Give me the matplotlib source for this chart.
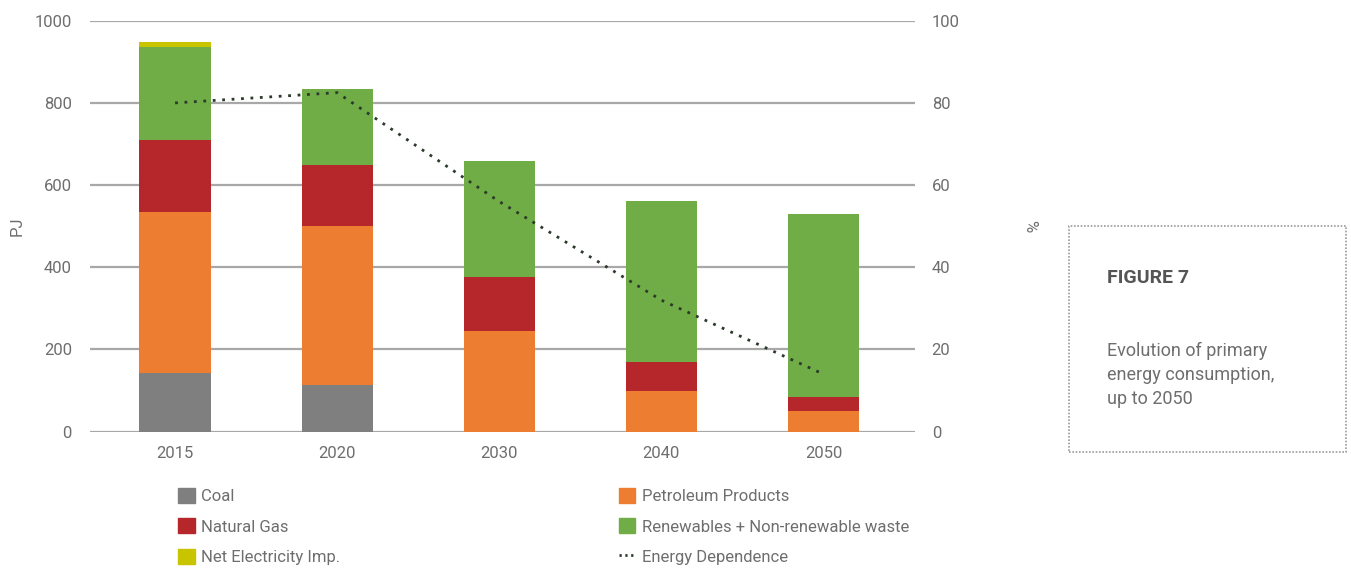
import matplotlib
matplotlib.use("Agg")
import matplotlib.pyplot as plt
from matplotlib.patches import Rectangle, Patch
from matplotlib.lines import Line2D
import numpy as np

years = ["2015", "2020", "2030", "2040", "2050"]
coal = [142, 114, 0, 0, 0]
petroleum = [393, 386, 246, 100, 51]
natural_gas = [175, 149, 131, 70, 33]
renewables = [227, 186, 282, 392, 445]
net_elec = [10, 0, 0, 0, 0]
energy_dependence = [80, 82.5, 56, 32, 14]

series_names = ["Coal", "Petroleum Products", "Natural Gas",
                "Renewables + Non-renewable waste", "Net Electricity Imp."]
colors = {"Coal": "#7f7f80", "Petroleum Products": "#ed7d31",
          "Natural Gas": "#b5272b",
          "Renewables + Non-renewable waste": "#70ad47",
          "Net Electricity Imp.": "#c8c400"}

plt.rcParams['font.family'] = ["Roboto", "DejaVu Sans"]
TXT = "#6e6e6e"

fig = plt.figure(figsize=(13.51, 5.72), dpi=100)
ax = fig.add_axes([0.0666, 0.2453, 0.6107, 0.7185])
ax2 = ax.twinx()

x = np.arange(len(years))
w = 0.44
bottom = np.zeros(len(years))
data = [coal, petroleum, natural_gas, renewables, net_elec]
for name, vals in zip(series_names, data):
    vals = np.array(vals, dtype=float)
    ax.bar(x, vals, w, bottom=bottom, color=colors[name], zorder=3, linewidth=0)
    bottom += vals

ax.set_ylim(0, 1000)
ax.set_xlim(-0.525, 4.565)
ax.set_yticks(range(0, 1001, 200))
ax.set_xticks(x)
ax.set_xticklabels(years)
ax.grid(axis='y', color='#a8a8a8', linewidth=1.6, zorder=0)
ax.set_axisbelow(True)
for s in ax.spines.values():
    s.set_visible(False)
for s in ax2.spines.values():
    s.set_visible(False)
ax.tick_params(axis='y', length=0, pad=13, labelsize=12, labelcolor=TXT)
ax.tick_params(axis='x', length=0, pad=10, labelsize=12, labelcolor=TXT)
ax.set_ylabel("PJ", fontsize=12, color=TXT)
ax.yaxis.set_label_coords(-0.079, 0.5)

ax2.plot(x, energy_dependence, linestyle=(0, (1, 2.4)), color="#2b3a2b",
         linewidth=2.0, zorder=5)
ax2.set_ylim(0, 100)
ax2.set_yticks(range(0, 101, 20))
ax2.tick_params(axis='y', length=0, pad=12, labelsize=12, labelcolor=TXT)
ax2.set_ylabel("%", fontsize=12, color=TXT, rotation=-90, va='center')
ax2.yaxis.set_label_coords(1.139, 0.5)

# Legend
handles = [Patch(color=colors["Coal"]), Patch(color=colors["Natural Gas"]),
           Patch(color=colors["Net Electricity Imp."]),
           Patch(color=colors["Petroleum Products"]),
           Patch(color=colors["Renewables + Non-renewable waste"]),
           Line2D([0], [0], linestyle=(0, (0.8, 1.3)), color="#2b3a2b", linewidth=2.0)]
labels = ["Coal", "Natural Gas", "Net Electricity Imp.", "Petroleum Products",
          "Renewables + Non-renewable waste", "Energy Dependence"]
leg = fig.legend(handles, labels, ncol=2, loc='upper left',
                 bbox_to_anchor=(0.1206, 0.173), frameon=False,
                 fontsize=12, labelcolor=TXT, handlelength=1.0, handleheight=1.0,
                 handletextpad=0.4, columnspacing=16.7, labelspacing=0.85)

# Figure caption box
box = Rectangle((1069 / 1351, 1 - 452 / 572), (1346 - 1069) / 1351, (452 - 226) / 572,
                transform=fig.transFigure, fill=False, edgecolor="#9a9a9a",
                linestyle=(0, (1, 1)), linewidth=1.2)
fig.patches.append(box)
fig.text(1107 / 1351, 1 - 278 / 572, "FIGURE 7", fontsize=14, fontweight='bold',
         color="#555555", va='center', ha='left')
fig.text(1107 / 1351, 1 - 375 / 572,
         "Evolution of primary\nenergy consumption,\nup to 2050",
         fontsize=13, color=TXT, va='center', ha='left', linespacing=1.45)

fig.savefig("out.png", dpi=100)
